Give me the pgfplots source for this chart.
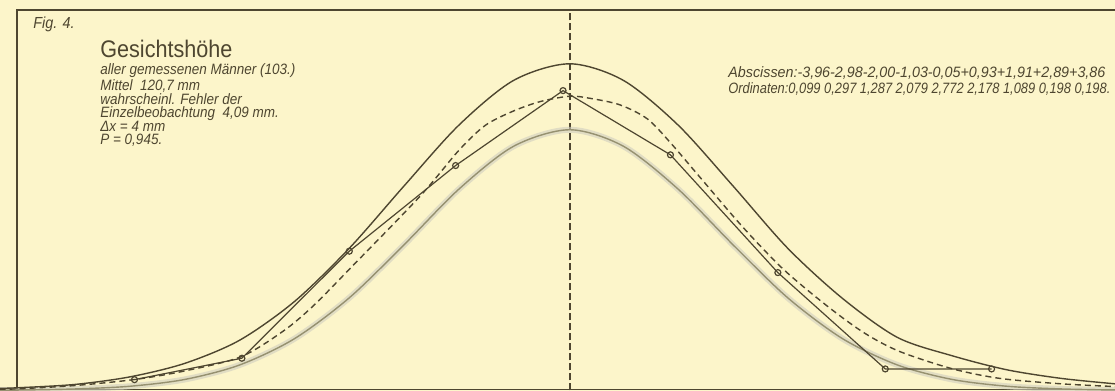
\documentclass[border=0pt]{standalone}
\usepackage{graphicx}
\usepackage{pgfplots}
\pgfplotsset{compat=1.18}
\usepackage{fontspec}
\setmainfont{Liberation Sans}
\newfontfamily\lett[FakeStretch=0.9]{Liberation Sans}
\newfontfamily\lettw{Liberation Sans}
\definecolor{paper}{RGB}{252,245,202}
\definecolor{ink}{RGB}{78,70,48}
\definecolor{ghost}{RGB}{150,145,112}

\begin{document}
\begin{tikzpicture}
\begin{axis}[
  width=557.5pt, height=195.5pt, scale only axis,
  xmin=-5.187, xmax=4.986, ymin=-0.006, ymax=3.61,
  hide axis, clip=true,
]
\fill[paper] (rel axis cs:0,0) rectangle (rel axis cs:1,1);
% frame
\draw[ink, line width=0.8pt] (axis cs:-5.03,0) -- (axis cs:-5.03,3.52) -- (axis cs:4.986,3.52);
\draw[ink, line width=0.6pt] (axis cs:-5.03,0.006) -- (axis cs:4.986,0.006);
\draw[ink, line width=0.6pt, dash pattern=on 3.5pt off 1.5pt] (axis cs:0.014,0) -- (axis cs:0.014,3.52);

% ghost (lower) curve
\addplot[ghost!45, line width=3pt, opacity=0.6, smooth] coordinates {
(-5.19,0.002) (-5,0.003) (-4.5,0.013) (-4,0.038) (-3.5,0.101) (-3,0.235) (-2.5,0.478) (-2,0.856) (-1.5,1.347) (-1,1.861) (-0.5,2.258) (0.01,2.41) (0.5,2.258) (1,1.861) (1.5,1.347) (2,0.856) (2.5,0.478) (3,0.235) (3.5,0.101) (4,0.038) (4.5,0.013) (4.99,0.003)};
\addplot[ghost, line width=0.7pt, smooth] coordinates {
(-5.19,0.002) (-5,0.003) (-4.5,0.013) (-4,0.038) (-3.5,0.101) (-3,0.235) (-2.5,0.478) (-2,0.856) (-1.5,1.347) (-1,1.861) (-0.5,2.258) (0.01,2.41) (0.5,2.258) (1,1.861) (1.5,1.347) (2,0.856) (2.5,0.478) (3,0.235) (3.5,0.101) (4,0.038) (4.5,0.013) (4.99,0.003)};

% upper solid curve
\addplot[ink, line width=0.7pt, smooth] coordinates {
(-5.19,0.018) (-5,0.025) (-4.5,0.055) (-4,0.125) (-3.5,0.25) (-3,0.464) (-2.5,0.822) (-2,1.314) (-1.5,1.891) (-1,2.453) (-0.5,2.867) (0.01,3.02) (0.5,2.867) (1,2.453) (1.5,1.891) (2,1.314) (2.5,0.85) (3,0.49) (3.5,0.32) (4,0.19) (4.5,0.11) (4.99,0.06)};

% dashed curve
\addplot[ink, line width=0.7pt, smooth, dash pattern=on 3pt off 2pt] coordinates {
(-5.19,0.01) (-5,0.015) (-4.5,0.045) (-3.96,0.10) (-3.5,0.18) (-2.99,0.31) (-2.6,0.55) (-2.33,0.78) (-2.0,1.12) (-1.355,1.795) (-1.0,2.22) (-0.76,2.45) (-0.51,2.58) (-0.26,2.67) (0.01,2.72) (0.2,2.70) (0.47,2.64) (0.72,2.51) (0.93,2.29) (1.2,1.97) (1.59,1.51) (1.96,1.12) (2.36,0.78) (2.7,0.53) (3.02,0.36) (3.5,0.2) (3.94,0.11) (4.5,0.06) (4.99,0.035)};

% observed polygon
\addplot[ink, line width=0.6pt, mark=o, mark size=1.5pt, mark options={fill=paper, solid}] coordinates {
(-3.96,0.099) (-2.98,0.297) (-2.00,1.287) (-1.03,2.079) (-0.05,2.772) (0.93,2.178) (1.91,1.089) (2.89,0.198) (3.86,0.198)};

% texts
\node[anchor=west, ink, inner sep=0pt, font=\lett\itshape\fontsize{8}{9}\selectfont] at (axis cs:-4.886,3.389) {Fig. 4.};
\node[anchor=west, ink, inner sep=0pt, font=\lett\fontsize{12}{14}\selectfont] at (axis cs:-4.275,3.158) {Gesichtshöhe};
\begin{scope}[every node/.style={anchor=west, ink, inner sep=0pt, font=\lett\itshape\fontsize{7.5}{9}\selectfont}]
\node at (axis cs:-4.275,2.956) {aller gemessenen Männer (103.)};
\node at (axis cs:-4.275,2.818) {Mittel \ 120,7 mm};
\node at (axis cs:-4.275,2.689) {wahrscheinl. Fehler der};
\node at (axis cs:-4.275,2.555) {Einzelbeobachtung \ 4,09 mm.};
\node at (axis cs:-4.275,2.44) {Δx = 4 mm};
\node at (axis cs:-4.275,2.311) {P = 0,945.};
\node[font=\lettw\itshape\fontsize{7.5}{9}\selectfont] at (axis cs:1.455,2.937) {\resizebox{188.5pt}{\height}{Abscissen:-3,96-2,98-2,00-1,03-0,05+0,93+1,91+2,89+3,86}};
\node[font=\lettw\itshape\fontsize{7.5}{9}\selectfont] at (axis cs:1.455,2.79) {\resizebox{191pt}{\height}{Ordinaten:0,099 0,297 1,287 2,079 2,772 2,178 1,089 0,198 0,198.}};
\end{scope}
\end{axis}
\end{tikzpicture}
\end{document}
